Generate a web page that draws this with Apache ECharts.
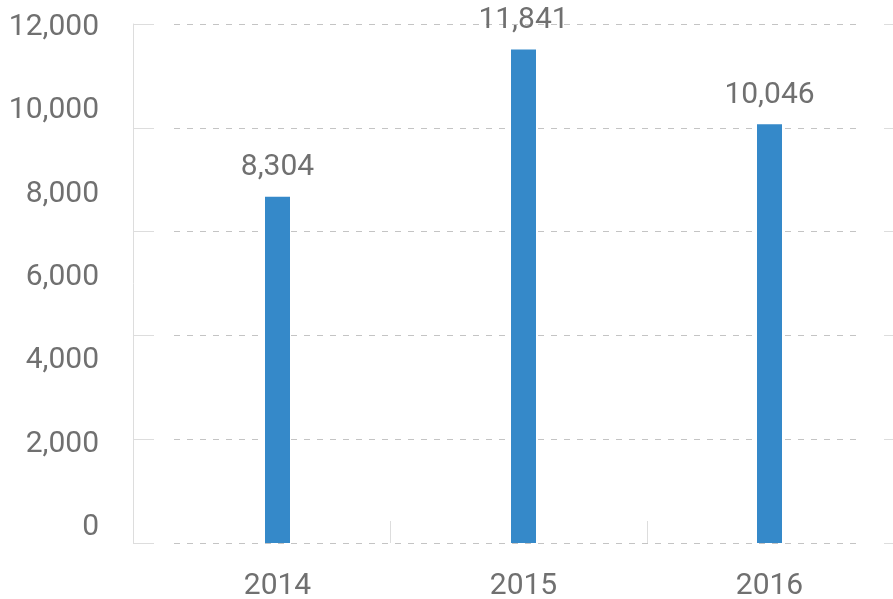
<!DOCTYPE html>
<html>
<head>
<meta charset="utf-8">
<script src="https://cdn.jsdelivr.net/npm/echarts@6/dist/echarts.min.js"></script>
<style>
html,body{margin:0;padding:0;background:#fff;}
#chart{width:893px;height:599px;}
</style>
</head>
<body>
<div id="chart"></div>
<script>
const categories = ['2014', '2015', '2016'];
const values = [8304, 11841, 10046];
const yTickValues = [0, 2000, 4000, 6000, 8000, 10000, 12000];

const TEXT = '#707070';
const AXIS = '#dddddd';
const DASH = '#c4c4c4';
const FONT = 'Roboto';

const chart = echarts.init(document.getElementById('chart'), null, {renderer: 'canvas'});
const fmt = v => Number(v).toLocaleString('en-US');

chart.setOption({
  animation: false,
  grid: [
    {left: 133, width: 771, top: 24, height: 519, outerBoundsMode: 'none', containLabel: false},   // axes / ticks frame
    {left: 174, right: 33, top: 24, height: 519, outerBoundsMode: 'none', containLabel: false},    // dashed grid lines
    {left: 110, right: 300, top: 27.5, height: 500, outerBoundsMode: 'none', containLabel: false}, // y labels
    {left: 154.5, right: 0.5, top: 24, height: 519, outerBoundsMode: 'none', containLabel: false}  // bars
  ],
  xAxis: [
    {gridIndex: 0, type: 'category', data: categories,
     axisLine: {show: false},
     axisTick: {show: true, inside: true, length: 22, lineStyle: {color: AXIS}},
     axisLabel: {show: false}, splitLine: {show: false}},
    {gridIndex: 1, type: 'value', show: false},
    {gridIndex: 2, type: 'value', show: false},
    {gridIndex: 3, type: 'category', data: categories,
     axisLine: {show: false}, axisTick: {show: false}, splitLine: {show: false},
     axisLabel: {show: true, margin: 28, color: TEXT, fontSize: 30, fontFamily: FONT}}
  ],
  yAxis: [
    {gridIndex: 0, type: 'value', min: 0, max: 5, interval: 1, position: 'left',
     axisLine: {show: true, lineStyle: {color: AXIS}},
     axisTick: {show: true, inside: true, length: 21, lineStyle: {color: AXIS}},
     axisLabel: {show: false}, splitLine: {show: false}},
    {gridIndex: 0, type: 'value', min: 0, max: 5, interval: 1, position: 'right',
     axisLine: {show: true, lineStyle: {color: AXIS}},
     axisTick: {show: true, inside: true, length: 20, lineStyle: {color: AXIS}},
     axisLabel: {show: false}, splitLine: {show: false}},
    {gridIndex: 1, type: 'value', min: 0, max: 5, interval: 1,
     axisLine: {show: false}, axisTick: {show: false}, axisLabel: {show: false},
     splitLine: {show: true, lineStyle: {color: DASH, width: 1, type: [6, 7]}}},
    {gridIndex: 2, type: 'value', min: yTickValues[0], max: yTickValues[yTickValues.length - 1], interval: 2000,
     axisLine: {show: false}, axisTick: {show: false}, splitLine: {show: false},
     axisLabel: {show: true, margin: 11, color: TEXT, fontSize: 30, fontFamily: FONT, formatter: fmt}},
    {gridIndex: 3, type: 'value', min: 0, max: 12450, show: false}
  ],
  series: [{
    type: 'bar',
    xAxisIndex: 3, yAxisIndex: 4,
    data: values,
    barWidth: 25,
    itemStyle: {color: '#3589c9'},
    label: {show: true, position: 'top', distance: 14, color: TEXT, fontSize: 30, fontFamily: FONT,
            formatter: p => fmt(p.value)}
  }]
});
</script>
</body>
</html>
